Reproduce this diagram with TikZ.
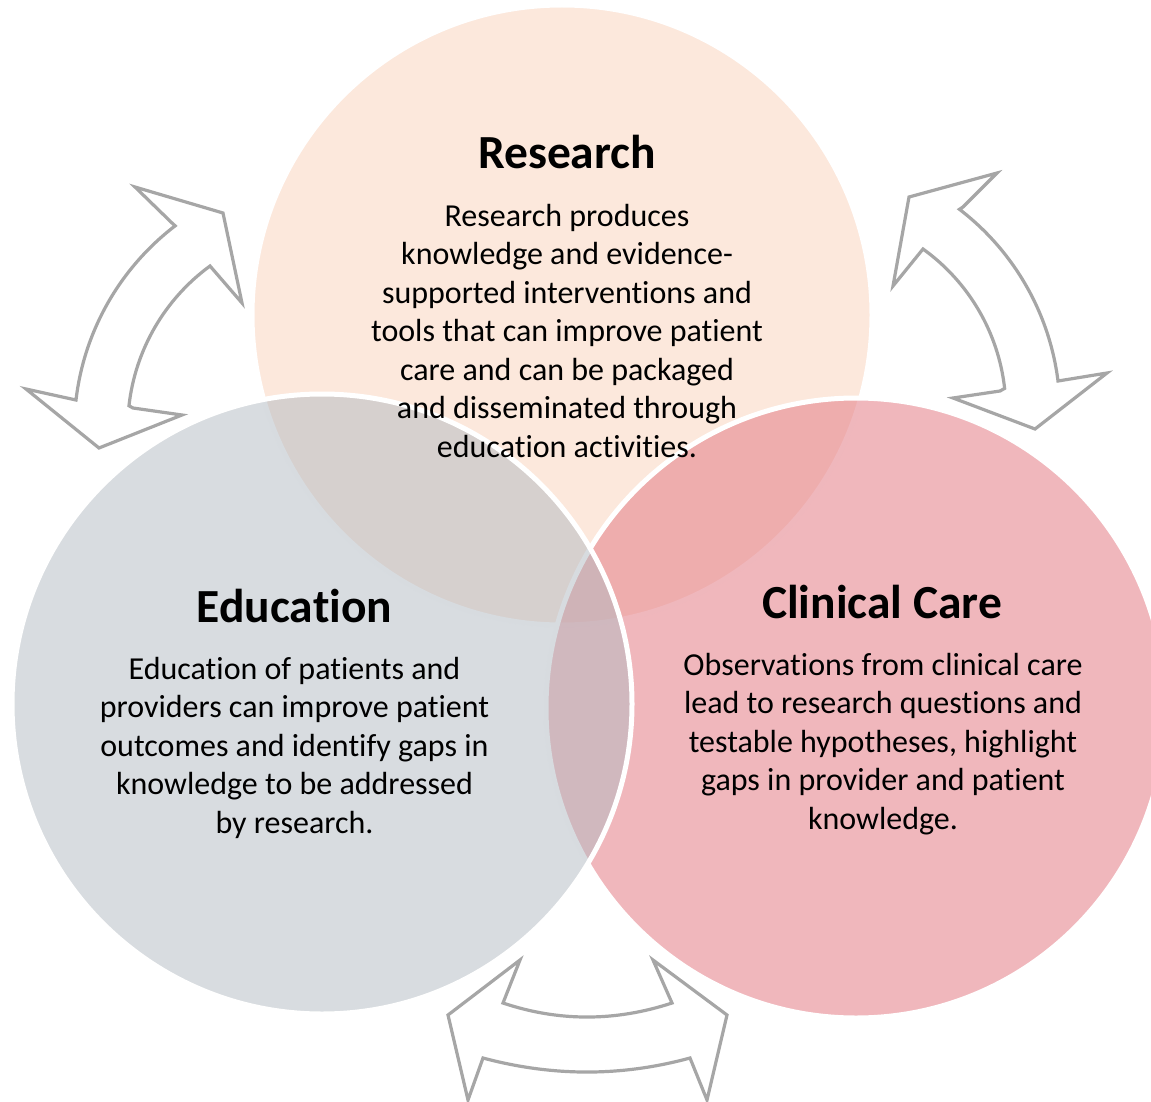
\documentclass[tikz,border=0pt]{standalone}
\usepackage{fontspec}
\setmainfont[Ligatures=NoCommon]{Carlito}
\definecolor{researchc}{RGB}{252,232,220}
\definecolor{clinicalc}{RGB}{229,131,140}
\definecolor{educationc}{RGB}{177,185,193}
\definecolor{arrowgray}{RGB}{166,166,166}
\begin{document}
\begin{tikzpicture}[x=1pt,y=-1pt,
  circ/.style={circle, draw=white, line width=5pt, minimum size=620pt, inner sep=0pt},
  arrowshape/.style={draw=arrowgray, line width=3.2pt, fill=white, line join=miter},
  titletext/.style={font=\bfseries\fontsize{47.5}{52}\selectfont, anchor=base, inner sep=0pt},
  bodytext/.style={font=\fontsize{32}{38.5}\selectfont, align=center, anchor=base, inner sep=0pt}]
\useasboundingbox (0,0) rectangle (1151,1102);
% circles
\node[circ, fill=researchc] (research) at (562,315) {};
\node[circ, fill=clinicalc, fill opacity=0.58] (clinical) at (856,708) {};
\node[circ, fill=educationc, fill opacity=0.5] (education) at (322,704) {};
% arrows
\draw[arrowshape] (172,223) -- (135,187) -- (223,213) -- (242,303) -- (210,266)
  arc[start angle=233.8, end angle=186.4, radius=201] -- (133,408) -- (182,415)
  -- (99,448) -- (26,389) -- (76,400)
  arc[start angle=186.7, end angle=232.6, radius=257] -- cycle;
\draw[arrowshape] (963,207) -- (997,173) -- (909,197) -- (893,286) -- (923,249)
  arc[start angle=-54.3, end angle=-6.4, radius=199] -- (1000,391) -- (953,398)
  -- (1035,429) -- (1107,373) -- (1058,381)
  arc[start angle=-7.2, end angle=-52.5, radius=257] -- cycle;
\draw[arrowshape] (503,1003) -- (520,960) -- (448,1015) -- (468,1100) -- (483,1058)
  .. controls (552.7,1076.7) and (621.7,1076.7) .. (690,1058)
  -- (707,1100) -- (727,1015) -- (653,960) -- (672,1003)
  .. controls (615,1021.7) and (558.7,1021.7) .. cycle;
% titles
\node[titletext] (rtitle) at (567,169) {Research};
\node[titletext] (etitle) at (294.5,622) {Education};
\node[titletext] (ctitle) at (882,618) {Clinical Care};
% bodies (anchored at the baseline of the last line)
\node[bodytext] (rbody) at (567,457) {Research produces\\knowledge and evidence-\\supported interventions and\\tools that can improve patient\\care and can be packaged\\and disseminated through\\education activities.};
\node[bodytext] (ebody) at (294.5,833) {Education of patients and\\providers can improve patient\\outcomes and identify gaps in\\knowledge to be addressed\\by research.};
\node[bodytext] (cbody) at (883,829) {Observations from clinical care\\lead to research questions and\\testable hypotheses, highlight\\gaps in provider and patient\\knowledge.};
\end{tikzpicture}
\end{document}
